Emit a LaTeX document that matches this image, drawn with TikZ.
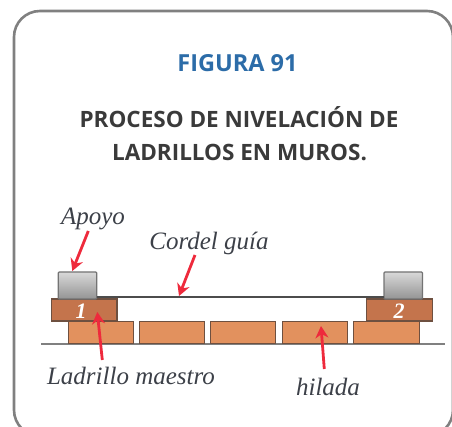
\documentclass[tikz,border=0pt]{standalone}
\usepackage{fontspec}
\setmainfont{Liberation Serif}
\newfontfamily\headfont{Open Sans}
\usetikzlibrary{arrows.meta}
\definecolor{titleblue}{HTML}{2C6CA8}
\definecolor{titledark}{HTML}{3A3A3A}
\definecolor{brickup}{HTML}{C4744C}
\definecolor{bricklow}{HTML}{E2915E}
\definecolor{brickedge}{HTML}{6E5040}
\definecolor{labelink}{HTML}{3C4048}
\definecolor{arrowred}{HTML}{EE2A3C}
\tikzset{
  framebox/.style={draw=black!50,line width=2.6pt,rounded corners=26pt},
  headblue/.style={font=\headfont\bfseries\fontsize{23.5}{26}\selectfont,text=titleblue,inner sep=0pt},
  headdark/.style={font=\headfont\bfseries\fontsize{22.5}{26}\selectfont,text=titledark,inner sep=0pt},
  brickbase/.style={draw=brickedge,line width=1.3pt,inner sep=0pt,minimum height=22pt},
  lowerbrick/.style={brickbase,fill=bricklow,minimum width=65pt},
  upperbrick/.style={brickbase,fill=brickup,minimum width=65.5pt},
  brickmark/.style={text=white,inner sep=0pt,font=\bfseries\itshape\fontsize{22}{24}\selectfont},
  support/.style={draw=black!55,line width=1.2pt,rounded corners=1pt,inner sep=0pt,minimum width=38.5pt,minimum height=27pt,top color=black!15,bottom color=black!42},
  callout/.style={font=\itshape\fontsize{25}{28}\selectfont,text=labelink,inner sep=0pt},
  pointer/.style={draw=arrowred,line width=2.8pt,-{Stealth[length=12pt,width=13pt]}},
  baseline rule/.style={draw=black!50,line width=1.2pt},
  cord/.style={draw=black!70,line width=2pt}
}
\begin{document}
\begin{tikzpicture}[x=1pt,y=-1pt]
\useasboundingbox (0,0) rectangle (452,427);
\clip (0,0) rectangle (452,427);
\draw[framebox] (14,11) rectangle (453,436);
\node[headblue] (fig) at (237.5,63) {FIGURA 91};
\node[headdark] (t1) at (239,117) {PROCESO DE NIVELACIÓN DE};
\node[headdark] (t2) at (239.5,152) {LADRILLOS EN MUROS.};
% ground
\coordinate (gl) at (41,344);
\coordinate (gr) at (445,344);
\draw[baseline rule] (gl) -- (gr);
% lower course
\node[lowerbrick] (b1) at (101.2,332.6) {};
\node[lowerbrick] (b2) at (171.7,332.6) {};
\node[lowerbrick] (b3) at (243.3,332.6) {};
\node[lowerbrick] (b4) at (315.2,332.6) {};
\node[lowerbrick,minimum width=66pt] (b5) at (386.3,332.6) {};
% master bricks
\node[upperbrick] (m1) at (84.2,310) {};
\node[upperbrick] (m2) at (399.5,310) {};
% supports
\node[support] (s1) at (77.5,285.5) {};
\node[support] (s2) at (403.3,285.5) {};
% cord
\coordinate (cl) at (97,297);
\coordinate (cr) at (384,297);
\draw[cord] (cl) -- (cr);
% labels
\node[callout] (apoyo) at (93,219) {Apoyo};
\node[callout] (cordel) at (209,243) {Cordel guía};
\node[callout] (maestro) at (131,376) {Ladrillo maestro};
\node[callout] (hilada) at (328,387) {hilada};
% numbers sit under the pointers
\node[brickmark] (n1) at (81,311) {1};
\node[brickmark] (n2) at (399,311) {2};
% pointers
\coordinate (pa) at (88.3,231);
\coordinate (ea) at (72.3,271);
\coordinate (pc) at (195,255);
\coordinate (ec) at (179,296);
\coordinate (pm) at (102.3,360);
\coordinate (em) at (97.3,312);
\coordinate (ph) at (324.3,369);
\coordinate (eh) at (321,326);
\draw[pointer] (pa) -- (ea);
\draw[pointer] (pc) -- (ec);
\draw[pointer] (pm) -- (em);
\draw[pointer] (ph) -- (eh);
\end{tikzpicture}
\end{document}
